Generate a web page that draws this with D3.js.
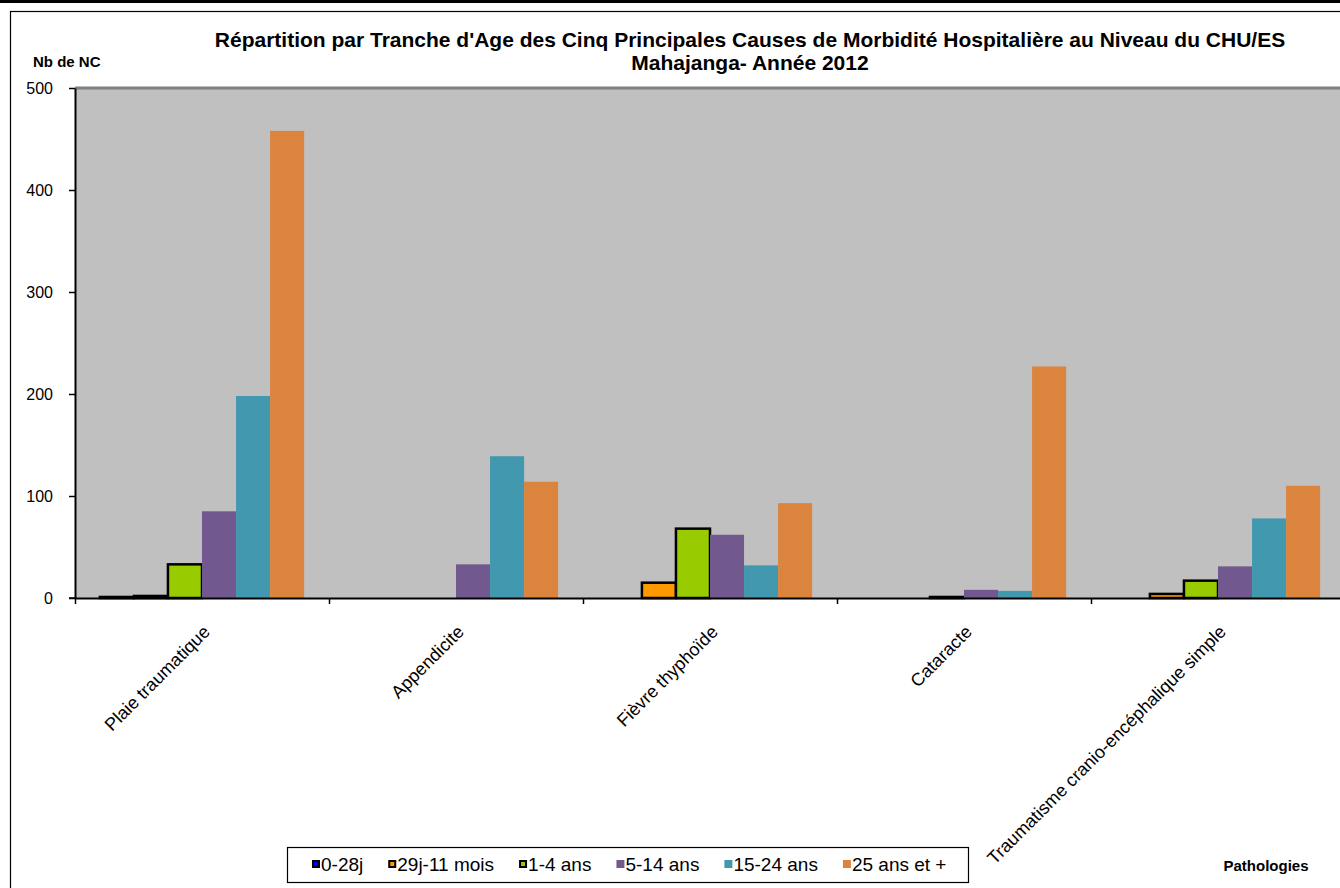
<!DOCTYPE html>
<html>
<head>
<meta charset="utf-8">
<script src="https://cdn.jsdelivr.net/npm/d3@7/dist/d3.min.js"></script>
<style>
  body { margin: 0; background: #fff; }
  svg { display: block; font-family: "Liberation Sans", Arial, sans-serif; }
</style>
</head>
<body>
<div id="chart"></div>
<script>
// pathologies (x categories)
const pathologies = ["Plaie traumatique", "Appendicite", "Fièvre thyphoïde", "Cataracte",
    "Traumatisme cranio-encéphalique simple"];

// age groups (series)
const ageGroups = ["0-28j", "29j-11 mois", "1-4 ans", "5-14 ans", "15-24 ans", "25 ans et +"];

// number of cases per age group, in pathology order
const cases0to28j   = [1, 0, 0, 0, 0];
const cases29jTo11m = [2, 0, 15, 0, 4];
const cases1to4     = [33, 0, 68, 1, 17];
const cases5to14    = [85, 33, 62, 8, 31];
const cases15to24   = [198, 139, 32, 7, 78];
const cases25plus   = [458, 114, 93, 227, 110];

const yTicks = [0, 100, 200, 300, 400, 500];

const seriesValues = [cases0to28j, cases29jTo11m, cases1to4, cases5to14, cases15to24, cases25plus];
const seriesColors = ["#0000FF", "#FF9900", "#99CC00", "#71588F", "#4198AF", "#DB843D"];
const outlined = ["0-28j", "29j-11 mois", "1-4 ans"];

BarVis = function(_parentElement) {
    this.parentElement = _parentElement;
    this.wrangleData();
};

BarVis.prototype.wrangleData = function() {
    let vis = this;
    // one row per pathology / age group pair
    vis.data = [];
    pathologies.forEach(function(p, i) {
        ageGroups.forEach(function(a, j) {
            vis.data.push({ pathology: p, age: a, value: seriesValues[j][i] });
        });
    });
    vis.initVis();
};

BarVis.prototype.initVis = function() {
    let vis = this;

    vis.width = 1340;
    vis.height = 888;
    vis.plot = { left: 75, right: 1345, top: 88, bottom: 598 };

    vis.svg = d3.select(vis.parentElement).append("svg")
        .attr("width", vis.width)
        .attr("height", vis.height);

    // frames
    vis.svg.append("line")
        .attr("x1", 0).attr("x2", vis.width)
        .attr("y1", 1.5).attr("y2", 1.5)
        .attr("stroke", "#000").attr("stroke-width", 3);
    vis.svg.append("rect")
        .attr("x", 10.5).attr("y", 11.5)
        .attr("width", 1400).attr("height", 1000)
        .attr("fill", "none").attr("stroke", "#000").attr("stroke-width", 1.2);

    // scales
    vis.x0 = d3.scaleBand()
        .domain(pathologies)
        .range([vis.plot.left, vis.plot.right]);

    vis.x1 = d3.scaleBand()
        .domain(ageGroups)
        .range([0, vis.x0.bandwidth()])
        .paddingOuter(0.73);

    vis.y = d3.scaleLinear()
        .domain([0, 500])
        .range([vis.plot.bottom, vis.plot.top]);

    vis.color = d3.scaleOrdinal()
        .domain(ageGroups)
        .range(seriesColors);

    // plot background
    vis.svg.append("rect")
        .attr("x", vis.plot.left).attr("y", vis.plot.top)
        .attr("width", vis.plot.right - vis.plot.left)
        .attr("height", vis.plot.bottom - vis.plot.top)
        .attr("fill", "#C0C0C0");
    vis.svg.append("line")
        .attr("x1", vis.plot.left).attr("x2", vis.plot.right)
        .attr("y1", vis.plot.top).attr("y2", vis.plot.top)
        .attr("stroke", "#808080").attr("stroke-width", 3);

    // titles
    vis.svg.append("text")
        .attr("x", 750).attr("y", 47)
        .attr("text-anchor", "middle")
        .attr("font-size", "21px").attr("font-weight", "bold")
        .text("Répartition par Tranche d'Age des Cinq Principales Causes de Morbidité Hospitalière au Niveau du CHU/ES");
    vis.svg.append("text")
        .attr("x", 750).attr("y", 70)
        .attr("text-anchor", "middle")
        .attr("font-size", "21px").attr("font-weight", "bold")
        .text("Mahajanga- Année 2012");
    vis.svg.append("text")
        .attr("x", 33).attr("y", 67)
        .attr("font-size", "15px").attr("font-weight", "bold")
        .text("Nb de NC");
    vis.svg.append("text")
        .attr("x", 1266).attr("y", 871)
        .attr("text-anchor", "middle")
        .attr("font-size", "15px").attr("font-weight", "bold")
        .text("Pathologies");

    vis.updateVis();
    vis.drawAxes();
    vis.drawLegend();
};

BarVis.prototype.updateVis = function() {
    let vis = this;

    // Excel leaves out zero bars
    vis.svg.append("g").selectAll(".bar")
        .data(vis.data.filter(d => d.value > 0))
        .enter()
        .append("rect")
        .attr("class", "bar")
        .attr("x", d => vis.x0(d.pathology) + vis.x1(d.age))
        .attr("y", d => vis.y(d.value))
        .attr("width", vis.x1.bandwidth())
        .attr("height", d => vis.y(0) - vis.y(d.value))
        .attr("fill", d => vis.color(d.age))
        .attr("stroke", d => outlined.includes(d.age) ? "#000" : "none")
        .attr("stroke-width", 2.5);
};

BarVis.prototype.drawAxes = function() {
    let vis = this;

    let yAxis = d3.axisLeft(vis.y)
        .tickValues(yTicks)
        .tickSize(6)
        .tickSizeOuter(0)
        .tickPadding(16);

    let gy = vis.svg.append("g")
        .attr("transform", `translate(${vis.plot.left},0)`)
        .call(yAxis);
    gy.select(".domain").attr("stroke", "#000").attr("stroke-width", 2);
    gy.selectAll(".tick line").attr("stroke", "#000").attr("stroke-width", 1.5);
    gy.selectAll("text")
        .attr("font-size", "16px")
        .attr("font-family", "Liberation Sans, Arial, sans-serif")
        .attr("fill", "#000");

    // category boundary ticks
    let xb = d3.scaleLinear()
        .domain([0, pathologies.length])
        .range([vis.plot.left, vis.plot.right]);
    let xAxis = d3.axisBottom(xb)
        .ticks(pathologies.length)
        .tickFormat("")
        .tickSize(6)
        .tickSizeOuter(0);
    let gx = vis.svg.append("g")
        .attr("transform", `translate(0,${vis.plot.bottom})`)
        .call(xAxis);
    gx.select(".domain").attr("stroke", "#000").attr("stroke-width", 2);
    gx.selectAll(".tick line").attr("stroke", "#000").attr("stroke-width", 1.5);
    gx.append("line")
        .attr("x1", vis.plot.left - 6).attr("x2", vis.plot.left)
        .attr("stroke", "#000").attr("stroke-width", 1.5);

    // rotated category labels
    vis.svg.selectAll(".cat-label")
        .data(pathologies)
        .enter()
        .append("text")
        .attr("class", "cat-label")
        .attr("text-anchor", "end")
        .attr("font-size", "18px")
        .attr("transform", d => `translate(${vis.x0(d) + vis.x0.bandwidth() / 2 + 9},633) rotate(-45)`)
        .text(d => d);
};

BarVis.prototype.drawLegend = function() {
    let vis = this;

    vis.svg.append("rect")
        .attr("x", 287.5).attr("y", 847.5)
        .attr("width", 681).attr("height", 35)
        .attr("fill", "#fff").attr("stroke", "#000").attr("stroke-width", 1.2);

    let cursor = 312;
    ageGroups.forEach(function(a) {
        let g = vis.svg.append("g").attr("transform", `translate(${cursor},0)`);
        let isOut = outlined.includes(a);
        g.append("rect")
            .attr("x", isOut ? 1 : 0).attr("y", isOut ? 861 : 860)
            .attr("width", isOut ? 6 : 8).attr("height", isOut ? 6 : 8)
            .attr("fill", vis.color(a))
            .attr("stroke", isOut ? "#000" : "none")
            .attr("stroke-width", 2);
        let t = g.append("text")
            .attr("x", 9).attr("y", 871)
            .attr("font-size", "19px")
            .text(a);
        cursor += 9 + t.node().getComputedTextLength() + 25;
    });
};

new BarVis("#chart");
</script>
</body>
</html>
